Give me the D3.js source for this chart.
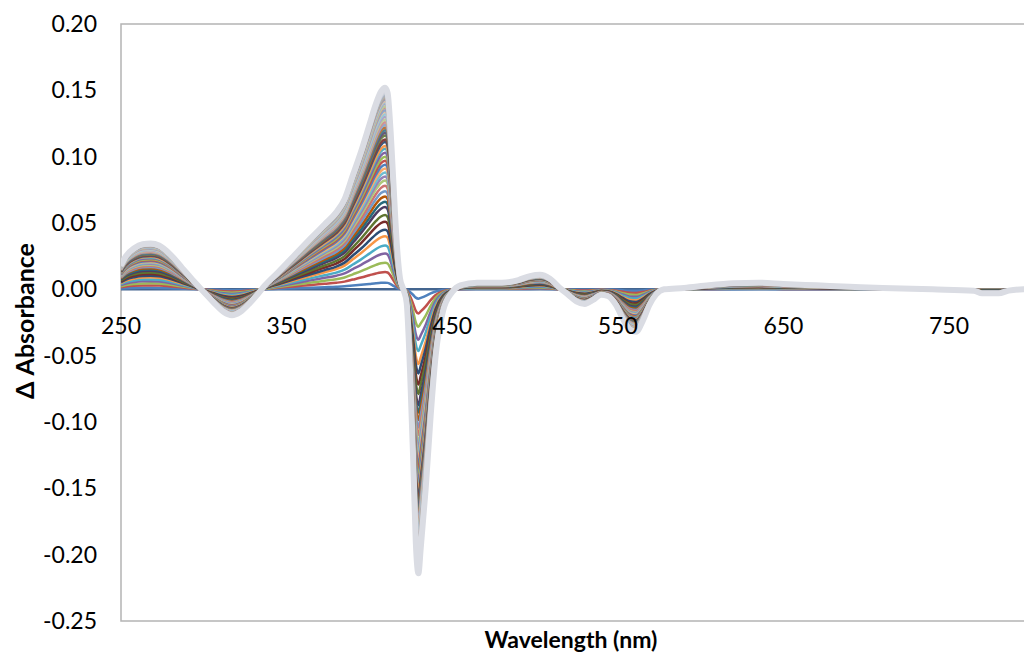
<!DOCTYPE html>
<html>
<head>
<meta charset="utf-8">
<script src="https://cdn.jsdelivr.net/npm/d3@7"></script>
<style>
  body { margin: 0; background: #fff; }
  svg { display: block; }
  text { font-family: Lato, "Open Sans", sans-serif; fill: #000; }
</style>
</head>
<body>
<svg width="1024" height="656"></svg>
<script>
// wavelength grid (nm) and the last, largest difference spectrum
var wavelengths = [250, 253, 258, 263, 268, 273, 280, 287, 294, 300, 306, 312, 317, 322, 328, 333, 337,
  345, 355, 365, 373, 380, 385, 390, 395, 400, 404, 407, 409.5, 411, 412.5, 414.5, 416.5, 418.5, 420.5,
  422.5, 424.5, 426.5, 428, 429.6, 431, 434, 437, 440, 444.5, 450, 455, 465, 480, 490, 497, 503, 509,
  515, 520, 525, 530, 535, 540, 544, 549, 553, 557, 561, 565, 569, 573, 578, 590, 605, 620, 635, 650,
  670, 690, 710, 740, 765, 770, 780, 786, 795, 800];
var finalSpectrum = [0.018, 0.025, 0.031, 0.034, 0.0345, 0.033, 0.026, 0.016, 0.006, -0.002, -0.010, -0.017,
  -0.0195, -0.017, -0.010, -0.003, 0.003, 0.013, 0.026, 0.039, 0.049, 0.058, 0.068, 0.086, 0.104, 0.124,
  0.140, 0.149, 0.152, 0.148, 0.125, 0.080, 0.035, 0.008, 0.000, -0.010, -0.060, -0.130, -0.190, -0.214,
  -0.195, -0.150, -0.095, -0.050, -0.016, -0.002, 0.003, 0.005, 0.005, 0.007, 0.010, 0.011, 0.008, 0.001,
  -0.004, -0.009, -0.011, -0.008, -0.004, -0.005, -0.012, -0.022, -0.030, -0.032, -0.024, -0.012, -0.004,
  0.000, 0.001, 0.003, 0.0045, 0.005, 0.004, 0.003, 0.002, 0.001, 0.000, -0.001, -0.003, -0.003, -0.001,
  0.000, 0.000];
// Soret-band (409 nm) value of every trace, first one is the flat baseline
var soretPeaks = [0, 0.005, 0.013, 0.020, 0.027, 0.033, 0.040, 0.045, 0.051, 0.056, 0.062, 0.066, 0.070,
  0.074, 0.078, 0.082, 0.085, 0.088, 0.091, 0.094, 0.097, 0.100, 0.103, 0.106, 0.108, 0.111, 0.113, 0.116,
  0.118, 0.120, 0.122, 0.124, 0.126, 0.128, 0.130, 0.132, 0.134, 0.135, 0.137, 0.138, 0.140, 0.141, 0.142,
  0.143, 0.144, 0.145, 0.146, 0.147, 0.148, 0.149, 0.150, 0.151, 0.152];
var xTicks = [250, 350, 450, 550, 650, 750];
var yTicks = [0.20, 0.15, 0.10, 0.05, 0.00, -0.05, -0.10, -0.15, -0.20, -0.25];

var svg = d3.select("svg"),
    plotLeft = 121, plotTop = 24, plotBottom = 621;

var x = d3.scaleLinear().domain([250, 800]).range([plotLeft, plotLeft + 550 * 1.656]);
var y = d3.scaleLinear().domain([-0.25, 0.20]).range([plotBottom, plotTop]);

// excel style series colours, later series fade towards pale grey
var base = ["#4F81BD", "#C0504D", "#9BBB59", "#8064A2", "#4BACC6", "#F79646",
            "#2C4D75", "#772C2A", "#5F7530", "#4D3B62", "#276A7C", "#B65708",
            "#729ACA", "#CD7371", "#AFC97A", "#9983B5", "#6FBDD1", "#F9AB6B"];
var n = soretPeaks.length;
function colour(i) {
  if (i == 0) return "#44658f";
  var c = base[(i - 1) % base.length];
  var t = i > n - 9 ? 0.6 + (i - (n - 9)) * 0.05 : Math.max(0, (i - 22) / 35);
  return d3.interpolateRgb(c, "#dadce3")(t);
}

svg.append("clipPath").attr("id", "plot")
  .append("rect").attr("x", plotLeft).attr("y", plotTop)
  .attr("width", 1024 - plotLeft).attr("height", plotBottom - plotTop);

// frame of the plot area
svg.append("path")
  .attr("d", "M1024," + plotTop + "H" + plotLeft + "V" + plotBottom + "H1024")
  .attr("fill", "none").attr("stroke", "#b4b4b4").attr("stroke-width", 1.5);

var maxPeak = d3.max(soretPeaks);
var line = d3.line()
  .x(function(d) { return x(d[0]); })
  .y(function(d) { return y(d[1]); })
  .curve(d3.curveMonotoneX);

svg.append("g").attr("clip-path", "url(#plot)")
  .selectAll("path")
  .data(soretPeaks)
  .enter().append("path")
    .attr("fill", "none")
    .attr("stroke", function(d, i) { return colour(i); })
    .attr("stroke-width", function(d, i) { return i == n - 1 ? 6 : (i > n - 5 ? 4 : 2.5); })
    .attr("stroke-linejoin", "round")
    .attr("d", function(p) {
      return line(wavelengths.map(function(w, j) { return [w, finalSpectrum[j] * p / maxPeak]; }));
    });

// y tick labels
svg.append("g")
  .attr("font-size", 23).attr("text-anchor", "end")
  .selectAll("text").data(yTicks).enter().append("text")
    .attr("x", 97).attr("y", function(d) { return y(d); })
    .attr("dy", "0.35em")
    .text(function(d) { return d.toFixed(2); });

// x tick labels sit just under the zero line
svg.append("g")
  .attr("font-size", 23).attr("text-anchor", "middle")
  .selectAll("text").data(xTicks).enter().append("text")
    .attr("x", function(d) { return x(d); }).attr("y", 326)
    .attr("dy", "0.35em")
    .text(function(d) { return d; });

svg.append("text")
  .attr("transform", "translate(25,321) rotate(-90)")
  .attr("text-anchor", "middle").attr("dy", "0.35em")
  .attr("font-size", 25).attr("font-weight", "bold")
  .text("Δ Absorbance");

svg.append("text")
  .attr("x", 571).attr("y", 640).attr("dy", "0.35em")
  .attr("text-anchor", "middle")
  .attr("font-size", 23).attr("font-weight", "bold")
  .text("Wavelength (nm)");
</script>
</body>
</html>
